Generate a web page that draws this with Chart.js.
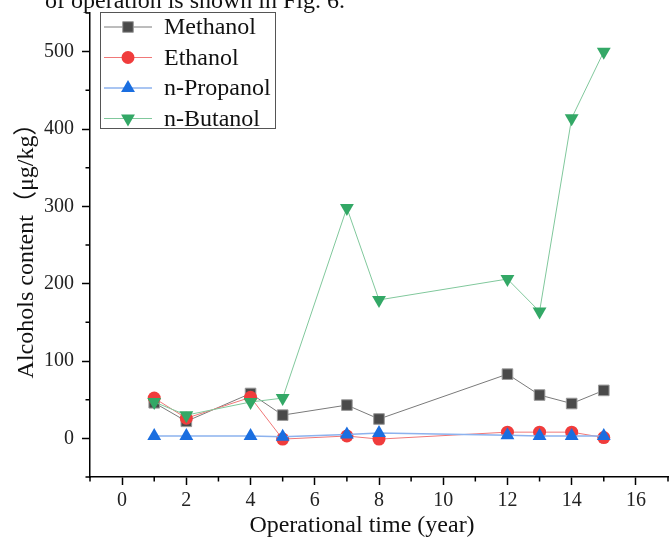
<!DOCTYPE html>
<html>
<head>
<meta charset="utf-8">
<script src="https://cdn.jsdelivr.net/npm/chart.js@4.4.0/dist/chart.umd.min.js"></script>
<style>
  html, body { margin: 0; padding: 0; background: #fff; }
  #wrap { width: 672px; height: 542px; position: relative; }
</style>
</head>
<body>
<div id="wrap"><canvas id="chart" width="672" height="542"></canvas></div>
<script>
const years = [1, 2, 4, 5, 7, 8, 12, 13, 14, 15];
const methanol = [46, 22, 58, 30, 43, 25, 83, 56, 45, 62];
const ethanol = [52, 26, 53, -1, 3, -1, 8, 8, 8, 1];
const propanol = [3, 3, 3, 2, 5, 7, 4, 3, 3, 3];
const butanol = [47, 30, 47, 52, 298, 179, 206, 164, 414, 500];

const xTicks = [0, 2, 4, 6, 8, 10, 12, 14, 16];
const xMinor = [-1, 1, 3, 5, 7, 9, 11, 13, 15, 17];
const yTicks = [0, 100, 200, 300, 400, 500];
const yMinor = [-50, 50, 150, 250, 350, 450, 550];

const serif = "'Liberation Serif', 'Times New Roman', 'Noto Sans CJK SC', serif";

function pts(ys) {
    return years.map((x, i) => ({ x: x, y: ys[i] }));
}

const datasets = [
    { label: "Methanol", data: pts(methanol), borderColor: "#7a7a7a", borderWidth: 1,
      pointStyle: "rect", pointRadius: 7.5, pointBackgroundColor: "#4a4a4a",
      pointBorderColor: "#9a9a9a", pointBorderWidth: 1, order: 4 },
    { label: "Ethanol", data: pts(ethanol), borderColor: "#f07878", borderWidth: 1,
      pointStyle: "circle", pointRadius: 6.5, pointBackgroundColor: "#f03c3c",
      pointBorderColor: "#f03c3c", pointBorderWidth: 0, order: 3 },
    { label: "n-Propanol", data: pts(propanol), borderColor: "#8cb2ee", borderWidth: 1.5,
      pointStyle: "triangle", pointRadius: 8, pointBackgroundColor: "#1a6ee0",
      pointBorderColor: "#1a6ee0", pointBorderWidth: 0, order: 2 },
    { label: "n-Butanol", data: pts(butanol), borderColor: "#80c89c", borderWidth: 1,
      pointStyle: "triangle", pointRotation: 180, pointRadius: 8, pointBackgroundColor: "#33a866",
      pointBorderColor: "#33a866", pointBorderWidth: 0, order: 1 }
];

const extras = {
    id: "extras",
    afterDraw(chart) {
        const ctx = chart.ctx;
        const xs = chart.scales.x, ys = chart.scales.y;
        const area = chart.chartArea;
        ctx.save();

        // minor ticks
        ctx.strokeStyle = "#000";
        ctx.lineWidth = 1.5;
        ctx.beginPath();
        xMinor.forEach(v => {
            const px = xs.getPixelForValue(v);
            ctx.moveTo(px, area.bottom);
            ctx.lineTo(px, area.bottom + 4.5);
        });
        yMinor.forEach(v => {
            const py = ys.getPixelForValue(v);
            ctx.moveTo(area.left, py);
            ctx.lineTo(area.left - 4.5, py);
        });
        ctx.stroke();

        // caption text cut at top
        ctx.fillStyle = "#111";
        ctx.font = "24px " + serif;
        ctx.textAlign = "left";
        ctx.textBaseline = "alphabetic";
        ctx.fillText("of operation is shown in Fig. 6.", 45, 8);

        // axis titles
        ctx.textAlign = "center";
        ctx.textBaseline = "middle";
        ctx.fillText("Operational time (year)", 362, 526);
        ctx.save();
        ctx.translate(27, 245);
        ctx.rotate(-Math.PI / 2);
        ctx.fillText("Alcohols content（μg/kg）", 0, 0);
        ctx.restore();

        // legend
        ctx.strokeStyle = "#555";
        ctx.lineWidth = 1;
        ctx.strokeRect(100.5, 12.5, 175, 116);
        datasets.forEach((d, i) => {
            const y = 27 + i * 30.5;
            ctx.strokeStyle = d.borderColor;
            ctx.lineWidth = d.borderWidth;
            ctx.beginPath();
            ctx.moveTo(104, y);
            ctx.lineTo(152, y);
            ctx.stroke();
            ctx.fillStyle = d.pointBackgroundColor;
            ctx.strokeStyle = d.pointBorderColor;
            ctx.lineWidth = d.pointBorderWidth;
            Chart.helpers.drawPoint(ctx, {
                pointStyle: d.pointStyle, rotation: d.pointRotation || 0,
                radius: d.pointRadius, borderWidth: d.pointBorderWidth
            }, 128, y);
            ctx.fillStyle = "#111";
            ctx.font = "24px " + serif;
            ctx.textAlign = "left";
            ctx.textBaseline = "middle";
            ctx.fillText(d.label, 164, y + 1);
        });
        ctx.restore();
    }
};

new Chart(document.getElementById("chart"), {
    type: "line",
    data: { datasets: datasets },
    options: {
        responsive: false,
        animation: false,
        layout: { autoPadding: false, padding: { top: 13, right: 4, left: 0, bottom: 0 } },
        plugins: { legend: { display: false }, tooltip: { enabled: false } },
        elements: { line: { tension: 0 } },
        scales: {
            x: {
                type: "linear", min: -1, max: 17,
                afterBuildTicks: s => { s.ticks = xTicks.map(v => ({ value: v })); },
                afterFit: s => { s.height = 65; s.paddingLeft = 0; s.paddingRight = 0; },
                border: { display: true, color: "#000", width: 1.5 },
                grid: { drawOnChartArea: false, drawTicks: true, tickLength: 8, tickColor: "#000", tickWidth: 1.5 },
                ticks: { font: { family: serif, size: 20 }, color: "#222", padding: 4, maxRotation: 0 }
            },
            y: {
                type: "linear", min: -50, max: 550,
                afterBuildTicks: s => { s.ticks = yTicks.map(v => ({ value: v })); },
                afterFit: s => { s.width = 90; s.paddingTop = 0; s.paddingBottom = 0; },
                border: { display: true, color: "#000", width: 1.5 },
                grid: { drawOnChartArea: false, drawTicks: true, tickLength: 8, tickColor: "#000", tickWidth: 1.5 },
                ticks: { font: { family: serif, size: 20 }, color: "#222", padding: 8 }
            }
        }
    },
    plugins: [extras]
});
</script>
</body>
</html>
